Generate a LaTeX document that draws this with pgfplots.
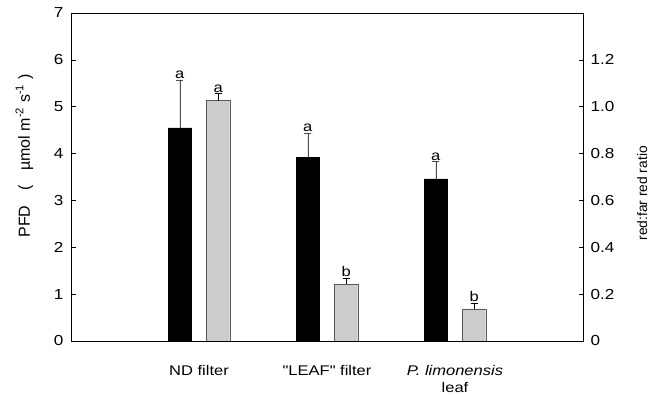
\documentclass[border=0pt]{standalone}
\usepackage{pgfplots}
\pgfplotsset{compat=1.18}
\usepackage{fontspec}
\setmainfont{Liberation Sans}
\newfontfamily\tfont[FakeStretch=1.18]{Liberation Sans}
\begin{document}
\begin{tikzpicture}[font=\fontsize{14}{18}\selectfont]
\pgfplotsset{
  common/.style={
    scale only axis, width=512pt, height=328pt,
    xmin=0, xmax=4,
    tick align=inside, major tick length=4.5pt,
    tick style={black, line width=0.6pt},
    /pgf/number format/assume math mode=true,
    ticklabel style={font=\tfont\fontsize{14.5}{18}\selectfont},
  }
}
\begin{axis}[common,
  axis line style={line width=0.8pt},
  ymin=0, ymax=7, ytick={0,1,...,7}, ytick pos=left,
  xtick={1,2,3},
  xticklabels={ND filter, "LEAF" filter, \textit{P. limonensis}\\leaf},
  xticklabel style={align=center, anchor=north, yshift=-21pt, font=\tfont\fontsize{14}{17}\selectfont},
  x tick style={draw=none},
  yticklabel style={xshift=-4pt},
  ylabel={PFD\hspace{0.95em}(\hspace{0.9em}µmol m\textsuperscript{-2} s\textsuperscript{-1}\hspace{0.3em})},
  ylabel style={at={(ticklabel cs:0.564)}, yshift=14pt, font=\fontsize{16}{18}\selectfont},
]
\addplot[ybar, bar width=0.18, bar shift=0, fill=black, draw=black,
  error bars/.cd, y dir=plus, y explicit,
  error bar style={line width=0.6pt, gray!60!black},
  error mark options={rotate=90, mark size=3.5pt, line width=0.6pt, gray!60!black}]
  coordinates {(0.85,4.55) +- (0,1.02) (1.85,3.92) +- (0,0.52) (2.85,3.46) +- (0,0.37)};
\node[anchor=south, inner sep=1pt, font=\tfont\fontsize{14}{18}\selectfont] at (axis cs:0.85,5.57) {a};
\node[anchor=south, inner sep=1pt, font=\tfont\fontsize{14}{18}\selectfont] at (axis cs:1.85,4.44) {a};
\node[anchor=south, inner sep=1pt, font=\tfont\fontsize{14}{18}\selectfont] at (axis cs:2.85,3.83) {a};
\coordinate (bl) at (rel axis cs:0,0);
\coordinate (tr) at (rel axis cs:1,1);
\end{axis}
\begin{axis}[common,
  axis x line=none, axis y line*=right,
  axis line style={line width=0.8pt},
  ymin=0, ymax=1.4, ytick={0,0.2,...,1.2},
  yticklabels={0,0.2,0.4,0.6,0.8,1.0,1.2},
  yticklabel style={xshift=4pt},
  ylabel={red:far red ratio},
  ylabel style={at={(ticklabel cs:0.45)}, yshift=-16pt, font=\fontsize{13.8}{18}\selectfont},
]
\addplot[ybar, bar width=0.18, bar shift=0, fill=black!20, draw=black!65,
  error bars/.cd, y dir=plus, y explicit,
  error bar style={line width=0.6pt, black},
  error mark options={rotate=90, mark size=3.5pt, line width=0.6pt, black}]
  coordinates {(1.15,1.026) +- (0,0.031) (2.15,0.243) +- (0,0.026) (3.15,0.137) +- (0,0.025)};
\node[anchor=south, inner sep=1pt, font=\tfont\fontsize{14}{18}\selectfont] at (axis cs:1.15,1.057) {a};
\node[anchor=south, inner sep=1pt, font=\tfont\fontsize{14}{18}\selectfont] at (axis cs:2.15,0.269) {b};
\node[anchor=south, inner sep=1pt, font=\tfont\fontsize{14}{18}\selectfont] at (axis cs:3.15,0.162) {b};
\end{axis}
\path ([xshift=-71pt,yshift=-56pt]bl) rectangle ([xshift=75pt,yshift=13pt]tr);
\end{tikzpicture}
\end{document}
